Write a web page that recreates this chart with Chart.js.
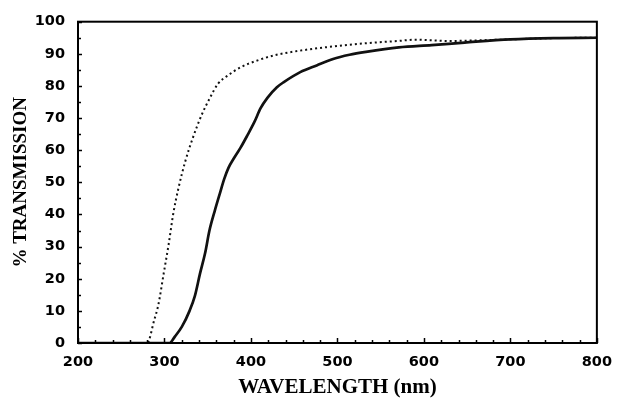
<!DOCTYPE html>
<html>
<head>
<meta charset="utf-8">
<script src="https://cdn.jsdelivr.net/npm/chart.js@4.4.1/dist/chart.umd.min.js"></script>
<style>
    html, body { margin: 0; padding: 0; background: #fff; }
    canvas { display: block; }
</style>
</head>
<body>
<canvas id="chart" width="623" height="398"></canvas>
<script>
// solid curve
const solidNm  = [200, 306, 312, 320, 329, 335, 341, 347, 352, 358, 364, 369, 374, 381, 388, 396, 404, 411, 419, 430, 438, 457, 476, 495, 514, 533, 571, 609, 647, 700, 750, 800];
const solidPct = [0, 0, 2, 5, 10, 14.5, 21.5, 28, 35, 41, 46.5, 51, 54.5, 57.8, 60.8, 64.7, 68.8, 73, 76.3, 79.6, 81.2, 84.3, 86.4, 88.4, 89.7, 90.6, 92, 92.7, 93.5, 94.5, 94.9, 95];

// dotted curve
const dottedNm  = [200, 280, 288, 293, 299, 305, 310, 316, 324, 333, 343, 352, 362, 373, 388, 407, 428, 457, 495, 533, 570, 590, 610, 630, 650, 700, 750, 800];
const dottedPct = [0, 0, 7, 12, 21.5, 31, 40, 48, 56.5, 64, 71, 76, 80.7, 83.2, 85.8, 87.9, 89.6, 91, 92.3, 93.3, 94, 94.4, 94.2, 94, 94.1, 94.5, 94.9, 95];

const xTicks = [200, 300, 400, 500, 600, 700, 800];
const yTicks = [0, 10, 20, 30, 40, 50, 60, 70, 80, 90, 100];

function toPoints(xs, ys) {
    return xs.map((x, i) => ({ x: x, y: ys[i] }));
}

const tickFont = { family: "'DejaVu Sans'", size: 14.5, weight: 'bold' };

// frame and inward tick marks
const framePlugin = {
    id: 'frame',
    afterDraw(chart) {
        const ctx = chart.ctx;
        const a = chart.chartArea;
        const xs = chart.scales.x, ys = chart.scales.y;

        ctx.save();
        ctx.strokeStyle = '#000';
        ctx.lineWidth = 1.5;

        // minor every 20 nm, major every 100
        for (let v = xs.min; v <= xs.max; v += 20) {
            const px = Math.round(xs.getPixelForValue(v)) + 0.5;
            const len = (v % 100 === 0) ? 5 : 3;
            ctx.beginPath();
            ctx.moveTo(px, a.bottom);
            ctx.lineTo(px, a.bottom - len);
            ctx.stroke();
        }
        for (let v = ys.min; v <= ys.max; v += 5) {
            const py = Math.round(ys.getPixelForValue(v)) + 0.5;
            const len = (v % 10 === 0) ? 4 : 3;
            ctx.beginPath();
            ctx.moveTo(a.left, py);
            ctx.lineTo(a.left + len, py);
            ctx.stroke();
        }

        ctx.lineWidth = 2;
        ctx.strokeRect(a.left, a.top, a.right - a.left, a.bottom - a.top);
        ctx.restore();
    }
};

new Chart(document.getElementById('chart'), {
    type: 'line',
    data: {
        datasets: [
            {
                data: toPoints(solidNm, solidPct),
                borderColor: '#111',
                borderWidth: 2.7,
                cubicInterpolationMode: 'monotone',
                pointRadius: 0,
                fill: false
            },
            {
                data: toPoints(dottedNm, dottedPct),
                borderColor: '#111',
                borderWidth: 2,
                borderDash: [2, 3],
                cubicInterpolationMode: 'monotone',
                pointRadius: 0,
                fill: false
            }
        ]
    },
    options: {
        responsive: false,
        animation: false,
        layout: { padding: { top: 19, right: 18, left: 0, bottom: 0 } },
        plugins: {
            legend: { display: false },
            tooltip: { enabled: false }
        },
        scales: {
            x: {
                type: 'linear',
                min: 200,
                max: 800,
                afterBuildTicks: (scale) => { scale.ticks = xTicks.map(v => ({ value: v })); },
                afterFit: (scale) => { scale.height = 55; },
                ticks: { color: '#000', font: tickFont, padding: 11 },
                grid: { display: false, drawTicks: false },
                border: { display: false },
                title: {
                    display: true,
                    text: 'WAVELENGTH (nm)',
                    color: '#000',
                    font: { family: "'Liberation Serif'", size: 21, weight: 'bold', lineHeight: 1 },
                    padding: { top: 0, bottom: 0 }
                }
            },
            y: {
                min: 0,
                max: 100,
                afterBuildTicks: (scale) => { scale.ticks = yTicks.map(v => ({ value: v })); },
                afterFit: (scale) => { scale.width = 78; },
                ticks: { color: '#000', font: tickFont, padding: 13 },
                grid: { display: false, drawTicks: false },
                border: { display: false },
                title: {
                    display: true,
                    text: '% TRANSMISSION',
                    color: '#000',
                    font: { family: "'Liberation Serif'", size: 19, weight: 'bold', lineHeight: 1 },
                    padding: { top: 12, bottom: 0 }
                }
            }
        }
    },
    plugins: [framePlugin]
});
</script>
</body>
</html>
